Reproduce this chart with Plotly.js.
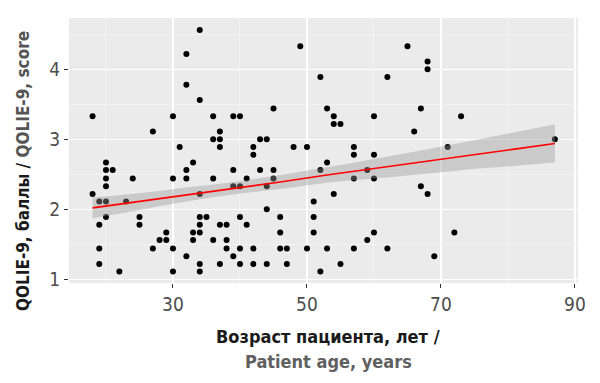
<!DOCTYPE html>
<html>
<head>
<meta charset="utf-8">
<script src="https://cdn.plot.ly/plotly-3.0.1.min.js"></script>
<style>html,body{margin:0;padding:0;background:#fff;}#chart{width:600px;height:383px;}</style>
</head>
<body>
<div id="chart"></div>
<script>
// Patient age (years)
const ages = [18,27,30,31,32,32,34,34,49,52,
  62,45,53,36,39,40,54,60,54,55,
  37,36,37,43,44,37,42,48,50,57,
  65,68,68,67,73,66,71,87,20,33,
  20,21,32,20,24,30,32,20,18,34,
  19,20,23,20,25,19,25,29,28,29,
  33,33,27,19,30,32,19,22,30,42,
  57,60,53,39,43,45,52,59,36,41,
  45,57,60,39,40,44,54,51,44,34,
  35,40,46,51,34,37,38,41,34,46,
  51,60,36,38,59,38,40,42,46,47,
  50,53,57,62,39,34,37,40,42,44,
  47,55,34,52,67,68,72,69];
// QOLIE-9 score
const scores = [3.33,3.11,3.33,2.89,4.22,3.78,4.56,3.56,4.33,3.89,
  3.89,3.44,3.44,3.33,3.33,3.33,3.33,3.33,3.22,3.22,
  3.11,3.00,3.00,3.00,3.00,2.89,2.89,2.89,2.89,2.89,
  4.33,4.11,4.00,3.44,3.33,3.11,2.89,3.00,2.67,2.67,
  2.56,2.56,2.56,2.44,2.44,2.44,2.44,2.33,2.22,2.22,
  2.11,2.11,2.11,1.89,1.89,1.78,1.78,1.67,1.56,1.56,
  1.67,1.56,1.44,1.44,1.44,1.33,1.22,1.11,1.11,2.78,
  2.78,2.78,2.67,2.56,2.56,2.56,2.56,2.56,2.44,2.44,
  2.44,2.44,2.44,2.33,2.33,2.33,2.22,2.11,2.00,1.89,
  1.89,1.89,1.89,1.89,1.78,1.78,1.78,1.78,1.67,1.67,
  1.67,1.67,1.56,1.56,1.56,1.44,1.44,1.44,1.44,1.44,
  1.44,1.44,1.44,1.44,1.33,1.22,1.22,1.22,1.22,1.22,
  1.22,1.22,1.11,1.11,2.33,2.22,1.67,1.33];
// Linear fit and its 95% confidence band
const fitAge  = [18, 25, 32, 39, 46, 53, 60, 67, 74, 81, 87];
const fitMean = [2.02, 2.11, 2.21, 2.30, 2.39, 2.49, 2.58, 2.67, 2.77, 2.86, 2.94];
const fitLow  = [1.87, 1.99, 2.11, 2.21, 2.29, 2.38, 2.44, 2.50, 2.57, 2.62, 2.67];
const fitHigh = [2.17, 2.23, 2.31, 2.39, 2.49, 2.60, 2.72, 2.84, 2.97, 3.10, 3.21];
const xTickVals = [30,50,70,90];
const yTickVals = [1,2,3,4];
const xTitleRu = "Возраст пациента, лет /";
const xTitleEn = "Patient age, years";
const yTitleRu = "QOLIE-9, баллы / ";
const yTitleEn = "QOLIE-9, score";

const FONT = "'Liberation Sans Narrow','Arial Narrow','DejaVu Sans Condensed','Roboto Condensed',sans-serif";

const traces = [
  {x: ages, y: scores, mode:'markers', type:'scatter', marker:{color:'#000', size:6}, showlegend:false},
  {x: fitAge, y: fitLow, mode:'lines', line:{width:0, color:'rgba(0,0,0,0)', shape:'spline'}, hoverinfo:'skip', showlegend:false},
  {x: fitAge, y: fitHigh, mode:'lines', line:{width:0, color:'rgba(0,0,0,0)', shape:'spline'}, fill:'tonexty', fillcolor:'rgba(153,153,153,0.4)', hoverinfo:'skip', showlegend:false},
  {x: fitAge, y: fitMean, mode:'lines', line:{color:'#ff0000', width:1.6}, showlegend:false}
];

const layout = {
  width: 600, height: 383,
  margin: {l:69, r:22, t:18, b:100},
  paper_bgcolor: '#ffffff', plot_bgcolor: '#ebebeb',
  font: {family: FONT, color:'#4d4d4d'},
  xaxis: {
    range: [14.48, 90.45], tickvals: xTickVals, ticktext: xTickVals.map(String),
    showgrid: true, gridcolor:'#ffffff', gridwidth:1.1, zeroline:false, showline:false,
    ticks:'outside', ticklen:4, tickcolor:'#333333', tickwidth:1,
    tickfont:{family:FONT, size:19, color:'#4d4d4d'},
    minor: {tickvals:[20,40,60,80], showgrid:true, gridcolor:'#f6f6f6', gridwidth:0.6, ticks:''}
  },
  yaxis: {
    range: [0.947, 4.733], tickvals: yTickVals, ticktext: yTickVals.map(String),
    showgrid: true, gridcolor:'#ffffff', gridwidth:1.1, zeroline:false, showline:false,
    ticks:'outside', ticklen:4, tickcolor:'#333333', tickwidth:1,
    tickfont:{family:FONT, size:19, color:'#4d4d4d'},
    minor: {tickvals:[1.5,2.5,3.5,4.5], showgrid:true, gridcolor:'#f6f6f6', gridwidth:0.6, ticks:''}
  },
  annotations: [
    {text: "<b>"+xTitleRu+"</b>", xref:'paper', yref:'paper', x:0.509, y:(283-336)/265,
     xanchor:'center', yanchor:'middle', showarrow:false, font:{family:FONT, size:18, color:'#1a1a1a'}},
    {text: "<b>"+xTitleEn+"</b>", xref:'paper', yref:'paper', x:0.509, y:(283-361)/265,
     xanchor:'center', yanchor:'middle', showarrow:false, font:{family:FONT, size:18, color:'#606060'}},
    {text: "<b>"+yTitleRu+"<span style='color:#555555'>"+yTitleEn+"</span></b>", xref:'paper', yref:'paper',
     x:(22.5-69)/509, y:(283-171.5)/265, xanchor:'center', yanchor:'middle', textangle:-90,
     showarrow:false, font:{family:FONT, size:17, color:'#1a1a1a'}}
  ]
};

Plotly.newPlot('chart', traces, layout, {displayModeBar:false, staticPlot:true});
</script>
</body>
</html>
